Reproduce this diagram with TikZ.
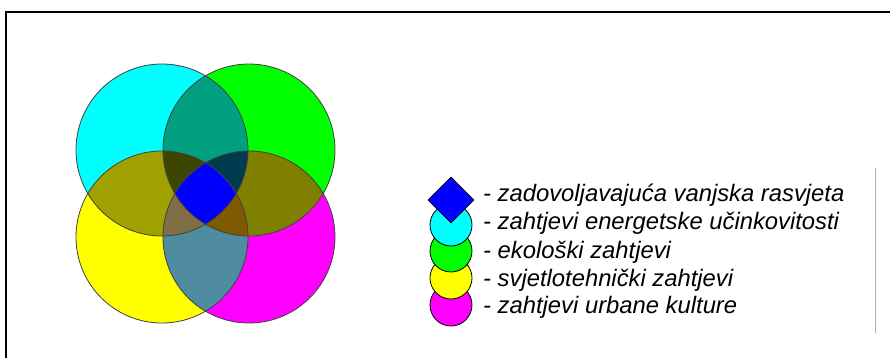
\documentclass[tikz,border=0pt]{standalone}
\usepackage{fontspec}
\setmainfont{Liberation Sans}
\usepackage{tikz}
\usetikzlibrary{shapes.geometric,positioning}

\definecolor{energC}{RGB}{0,255,255}
\definecolor{ekoC}{RGB}{0,255,0}
\definecolor{svjetC}{RGB}{255,255,0}
\definecolor{urbC}{RGB}{255,0,255}
\definecolor{enekoC}{RGB}{0,160,128}
\definecolor{enesvjC}{RGB}{160,160,0}
\definecolor{ekourbC}{RGB}{128,128,0}
\definecolor{svjurbC}{RGB}{80,140,160}
\definecolor{triAC}{RGB}{60,70,0}
\definecolor{triBC}{RGB}{0,60,80}
\definecolor{triCC}{RGB}{128,110,70}
\definecolor{triDC}{RGB}{128,90,0}
\definecolor{zadC}{RGB}{0,0,255}

\newcommand{\rad}{86}

\begin{document}
\begin{tikzpicture}[
    x=1bp,y=-1bp,
    rim/.style={draw=black!75,line width=0.8bp},
    legcirc/.style={circle,draw=black,line width=0.8bp,minimum size=42bp,inner sep=0pt},
    legdiam/.style={diamond,draw=black,line width=0.8bp,fill=zadC,minimum width=46bp,minimum height=46bp,inner sep=0pt},
    legtext/.style={anchor=west,font=\fontsize{23.8bp}{28bp}\selectfont\itshape,inner sep=0pt}
]
    \useasboundingbox (0,0) rectangle (890,358);

    % Frame
    \draw[line width=2bp] (6,358) -- (6,11.5) -- (890,11.5);
    \draw[black!30,line width=1bp] (875,168) -- (875,333);

    % Circle centres
    \coordinate (ener) at (162,150);
    \coordinate (eko) at (249,150);
    \coordinate (svj) at (162,237);
    \coordinate (urb) at (249,237);

    % Single circles
    \fill[energC] (ener) circle (\rad);
    \fill[ekoC] (eko) circle (\rad);
    \fill[svjetC] (svj) circle (\rad);
    \fill[urbC] (urb) circle (\rad);

    % Pairs
    \begin{scope}
        \clip (ener) circle (\rad);
        \fill[enekoC] (eko) circle (\rad);
        \fill[enesvjC] (svj) circle (\rad);
    \end{scope}
    \begin{scope}
        \clip (urb) circle (\rad);
        \fill[ekourbC] (eko) circle (\rad);
        \fill[svjurbC] (svj) circle (\rad);
    \end{scope}

    % Triples
    \begin{scope}
        \clip (ener) circle (\rad);
        \clip (eko) circle (\rad);
        \fill[triAC] (svj) circle (\rad);
        \fill[triBC] (urb) circle (\rad);
    \end{scope}
    \begin{scope}
        \clip (svj) circle (\rad);
        \clip (urb) circle (\rad);
        \fill[triCC] (ener) circle (\rad);
        \fill[triDC] (eko) circle (\rad);
    \end{scope}

    % All four
    \begin{scope}
        \clip (ener) circle (\rad);
        \clip (eko) circle (\rad);
        \clip (svj) circle (\rad);
        \fill[zadC] (urb) circle (\rad);
    \end{scope}

    % Outlines
    \foreach \c in {ener,eko,svj,urb}
        \draw[rim] (\c) circle (\rad);

    % Legend
    \node[legcirc,fill=urbC] (lurb) at (451,305) {};
    \node[legcirc,fill=svjetC] (lsvj) at (451,278) {};
    \node[legcirc,fill=ekoC] (leko) at (451,251) {};
    \node[legcirc,fill=energC] (lener) at (451,225) {};
    \node[legdiam] (lzad) at (451,200) {};

    \node[legtext] (tzad) at (483,195) {- zadovoljavajuća vanjska rasvjeta};
    \node[legtext] (tener) at (483,223) {- zahtjevi energetske učinkovitosti};
    \node[legtext] (teko) at (483,252) {- ekološki zahtjevi};
    \node[legtext] (tsvj) at (483,280) {- svjetlotehnički zahtjevi};
    \node[legtext] (turb) at (483,307) {- zahtjevi urbane kulture};
\end{tikzpicture}
\end{document}
